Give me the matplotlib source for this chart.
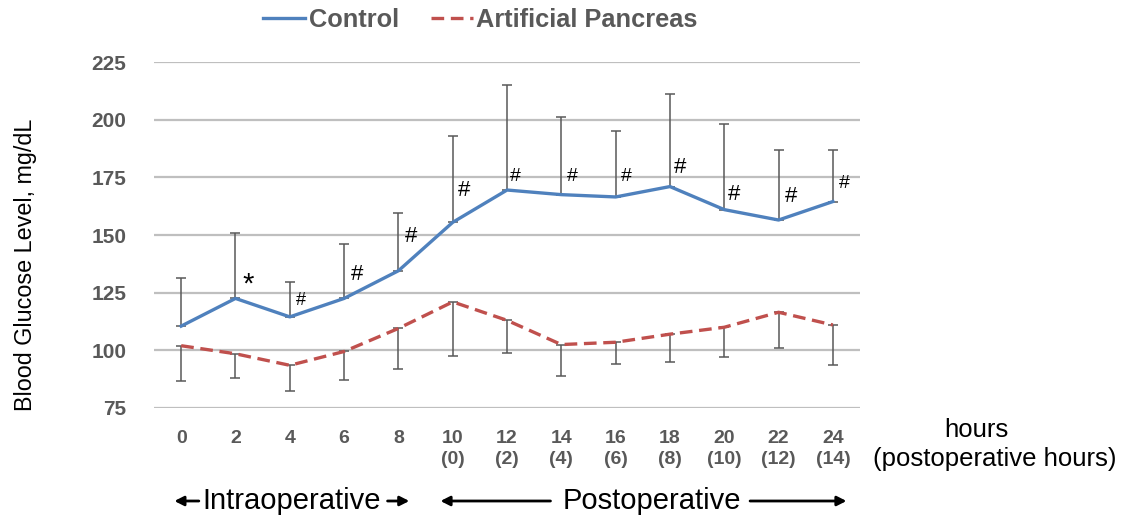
import matplotlib
matplotlib.use('Agg')
import matplotlib.pyplot as plt
import matplotlib.transforms as mtransforms

plt.rcParams['font.family'] = ['Liberation Sans', 'DejaVu Sans']

hours = [0, 2, 4, 6, 8, 10, 12, 14, 16, 18, 20, 22, 24]
tick_labels = ['0', '2', '4', '6', '8', '10\n(0)', '12\n(2)', '14\n(4)', '16\n(6)',
               '18\n(8)', '20\n(10)', '22\n(12)', '24\n(14)']

control_mean = [110.5, 122.5, 114.5, 122.5, 134.5, 155.5, 169.5, 167.5, 166.5, 171, 161, 156.5, 164.5]
control_sd = [21, 28.5, 15, 23.5, 25, 37.5, 45.5, 33.5, 28.5, 40, 37, 30.5, 22.5]
ap_mean = [102, 98.5, 93.5, 99.5, 109.5, 121, 113, 102.5, 103.5, 107, 110, 116.5, 111]
ap_sd = [15.5, 10.5, 11, 12.5, 17.5, 23.5, 14, 13.5, 9.5, 12, 13, 15.5, 17.5]

marks = ['', '*', '#', '#', '#', '#', '#', '#', '#', '#', '#', '#', '#']
# label offsets (points) from the control line
mark_dx = [0, 9, 8, 9, 9, 8, 6, 8, 8, 7, 7, 9, 8]
mark_dy = [0, 10, 12, 17, 25, 23, 10, 13, 15, 14, 11, 17, 13]
mark_size = [0, 21, 13, 16, 16, 16, 14, 14, 14, 16, 16, 16, 14]

grey = '#595959'
blue = '#4F81BD'
red = '#C0504D'

fig = plt.figure(figsize=(11.26, 5.19), dpi=100)
ax = fig.add_axes([0.1368, 0.2139, 0.6270, 0.6666])

for y in [75, 100, 125, 150, 175, 200, 225]:
    ax.axhline(y, color='#BFBFBF', lw=1.6, zorder=0)

ax.errorbar(hours, control_mean, yerr=[[0] * len(hours), control_sd], fmt='none',
            ecolor=grey, elinewidth=1.1, capsize=3.5, capthick=1.1, zorder=2)
ax.errorbar(hours, ap_mean, yerr=[ap_sd, [0] * len(hours)], fmt='none',
            ecolor=grey, elinewidth=1.1, capsize=3.5, capthick=1.1, zorder=2)
l1, = ax.plot(hours, control_mean, color=blue, lw=2.4, zorder=3, label='Control')
l2, = ax.plot(hours, ap_mean, color=red, lw=2.4, dashes=(3.8, 2), zorder=3,
              label='Artificial Pancreas')

for x, y, m, dx, dy, s in zip(hours, control_mean, marks, mark_dx, mark_dy, mark_size):
    if m:
        ax.annotate(m, (x, y), xytext=(dx, dy), textcoords='offset points',
                    ha='center', va='center', fontsize=s, color='black')

ax.set_xlim(-1, 25)
ax.set_ylim(75, 225)
ax.set_yticks([75, 100, 125, 150, 175, 200, 225])
ax.set_xticks(hours)
ax.set_xticklabels(tick_labels, linespacing=1.3)
ax.tick_params(axis='both', length=0, labelcolor=grey, labelsize=14)
ax.tick_params(axis='x', pad=16)
ax.tick_params(axis='y', pad=20, labelsize=15)
for lab in ax.get_xticklabels() + ax.get_yticklabels():
    lab.set_fontweight('bold')
for sp in ax.spines.values():
    sp.set_visible(False)

ax.set_ylabel('Blood Glucose Level, mg/dL', fontsize=16.8)
ax.yaxis.set_label_coords(-0.166, 0.413)

fig.legend(handles=[l1, l2], loc='center', bbox_to_anchor=(0.4267, 0.962), ncol=2,
           frameon=False, prop={'weight': 'bold', 'size': 18.3}, labelcolor=grey,
           handlelength=1.65, handletextpad=0.15, columnspacing=1.25)

fig.text(976 / 1126, 1 - 430 / 519, 'hours', ha='center', va='center', fontsize=18.5)
fig.text(995 / 1126, 1 - 459 / 519, '(postoperative hours)', ha='center', va='center',
         fontsize=18.5)

# bottom phase labels with arrows
tr = mtransforms.blended_transform_factory(ax.transData, fig.transFigure)
yb = 1 - 501 / 519
arrow = dict(arrowstyle='-|>,head_length=0.55,head_width=0.28', color='black', lw=2,
             shrinkA=0, shrinkB=0)
ax.text(4.08, yb, 'Intraoperative', transform=tr, ha='center', va='center', fontsize=21)
ax.annotate('', xy=(-0.25, yb), xytext=(0.65, yb), xycoords=tr, textcoords=tr, arrowprops=arrow)
ax.annotate('', xy=(8.4, yb), xytext=(7.6, yb), xycoords=tr, textcoords=tr, arrowprops=arrow)
ax.text(17.33, yb, 'Postoperative', transform=tr, ha='center', va='center', fontsize=21)
ax.annotate('', xy=(9.55, yb), xytext=(13.6, yb), xycoords=tr, textcoords=tr, arrowprops=arrow)
ax.annotate('', xy=(24.5, yb), xytext=(20.95, yb), xycoords=tr, textcoords=tr, arrowprops=arrow)

fig.savefig('out.png', dpi=100)
